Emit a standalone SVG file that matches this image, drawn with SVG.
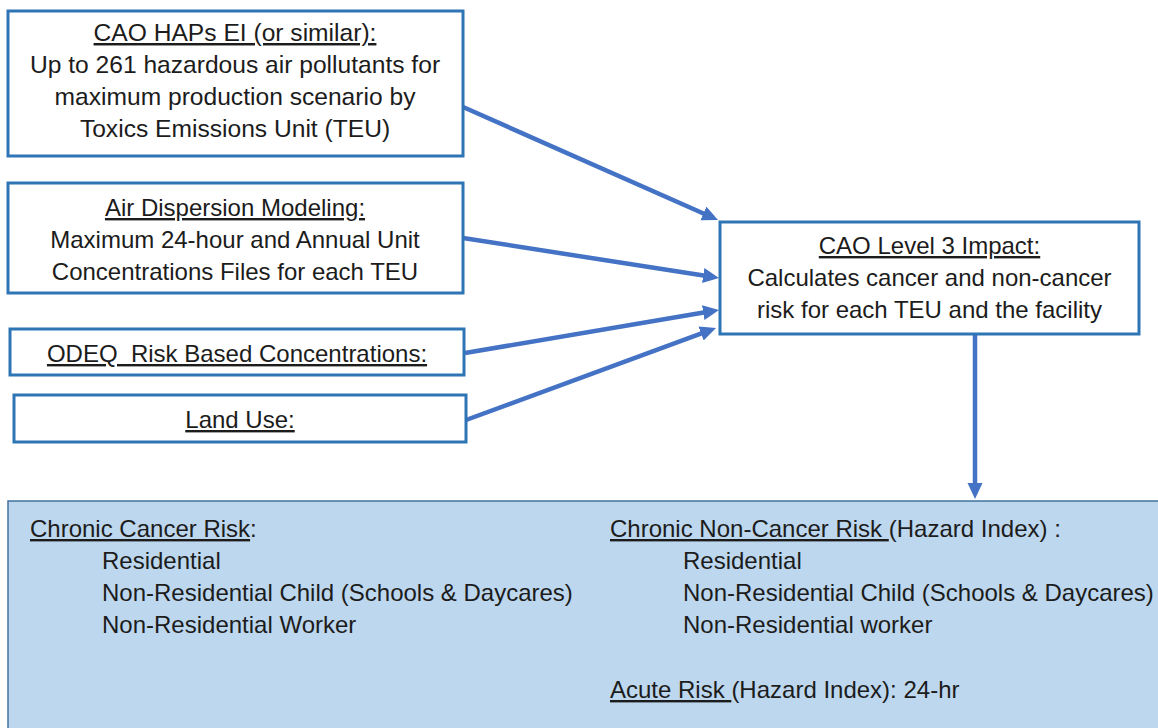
<svg xmlns="http://www.w3.org/2000/svg" width="1158" height="728" viewBox="0 0 1158 728">
<style>
.box{fill:#ffffff;stroke:#2E75B6;stroke-width:3}
.out{fill:#BDD7EE;stroke:#41719C;stroke-width:1.5}
text{font-family:"Liberation Sans",Arial,sans-serif;font-size:24px;fill:#1c1c1c}
.c{text-anchor:middle}
.b1{font-size:24.6px}
.u{text-decoration:underline}
.conn{stroke:#4472C4;stroke-width:4.5;fill:none;marker-end:url(#ah)}
</style>
<defs>
<marker id="ah" markerUnits="userSpaceOnUse" markerWidth="18" markerHeight="16" refX="2" refY="7.5" orient="auto">
<path d="M0,0 L16,7.5 L0,15 z" fill="#4472C4"/>
</marker>
</defs>
<rect width="1158" height="728" fill="#ffffff"/>
<g id="connectors">
<line class="conn" x1="463" y1="107" x2="705.2" y2="214.3"/>
<line class="conn" x1="463" y1="238" x2="705.2" y2="275.8"/>
<line class="conn" x1="465" y1="353" x2="705.2" y2="312.3"/>
<line class="conn" x1="466" y1="420" x2="702.9" y2="332.8"/>
<line class="conn" x1="975" y1="334" x2="975" y2="485"/>
</g>
<g id="hapsEI">
<rect class="box" x="8" y="11" width="455" height="145"/>
<text class="c b1" x="235" y="41"><tspan class="u">CAO HAPs EI (or similar):</tspan></text>
<text class="c b1" x="235" y="73">Up to 261 hazardous air pollutants for</text>
<text class="c b1" x="235" y="105">maximum production scenario by</text>
<text class="c b1" x="235" y="137">Toxics Emissions Unit (TEU)</text>
</g>
<g id="dispersion">
<rect class="box" x="8" y="183" width="455" height="110"/>
<text class="c" x="235" y="216"><tspan class="u">Air Dispersion Modeling:</tspan></text>
<text class="c" x="235" y="248">Maximum 24-hour and Annual Unit</text>
<text class="c" x="235" y="280">Concentrations Files for each TEU</text>
</g>
<g id="odeq">
<rect class="box" x="10" y="329" width="454" height="46"/>
<text class="c" x="237" y="362"><tspan class="u">ODEQ &#160;Risk Based Concentrations:</tspan></text>
</g>
<g id="landuse">
<rect class="box" x="14" y="395" width="452" height="47"/>
<text class="c" x="240" y="428"><tspan class="u">Land Use:</tspan></text>
</g>
<g id="impact">
<rect class="box" x="720" y="222" width="419" height="112"/>
<text class="c" x="929.5" y="254"><tspan class="u">CAO Level 3 Impact:</tspan></text>
<text class="c" x="929.5" y="286">Calculates cancer and non-cancer</text>
<text class="c" x="929.5" y="318">risk for each TEU and the facility</text>
</g>
<g id="results">
<rect class="out" x="8" y="501" width="1160" height="240"/>
<text x="30" y="537"><tspan class="u">Chronic Cancer Risk</tspan>:</text>
<text x="102" y="569">Residential</text>
<text x="102" y="601">Non-Residential Child (Schools &amp; Daycares)</text>
<text x="102" y="633">Non-Residential Worker</text>
<text x="610" y="537"><tspan class="u">Chronic Non-Cancer Risk&#160;</tspan>(Hazard Index) :</text>
<text x="683" y="569">Residential</text>
<text x="683" y="601">Non-Residential Child (Schools &amp; Daycares)</text>
<text x="683" y="633">Non-Residential worker</text>
<text x="610" y="698"><tspan class="u">Acute Risk&#160;</tspan>(Hazard Index): 24-hr</text>
</g>
</svg>
